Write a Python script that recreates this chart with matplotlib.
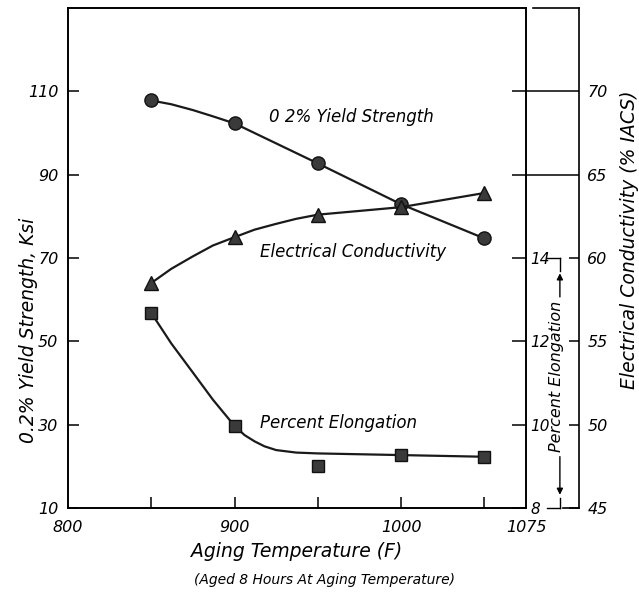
import numpy as np
import matplotlib
matplotlib.use('Agg')
import matplotlib.pyplot as plt
import matplotlib.ticker as ticker

plt.rcParams['font.family'] = ['DejaVu Sans']
plt.rcParams['font.style'] = 'italic'

# aging temperature (F)
temp = [850, 900, 950, 1000, 1050]
# 0.2% yield strength, ksi
yield_ksi = [107.8, 102.3, 92.7, 82.9, 74.7]
# electrical conductivity, % IACS
cond = [58.5, 61.25, 62.6, 63.05, 63.9]
# percent elongation
elong = [12.68, 9.97, 9.0, 9.27, 9.23]

# hand drawn trend curves
cond_curve_t = [850, 862, 875, 887, 900, 912, 925, 937, 950, 1000, 1050]
cond_curve = [58.5, 59.35, 60.1, 60.75, 61.25, 61.7, 62.05, 62.35, 62.6, 63.05, 63.9]
elong_curve_t = [850, 862, 875, 887, 900, 906, 912, 918, 925, 937, 950, 1000, 1050]
elong_curve = [12.68, 11.95, 11.25, 10.6, 9.97, 9.75, 9.6, 9.48, 9.39, 9.33, 9.31, 9.27, 9.23]
yield_curve_t = [850, 862, 875, 887, 900, 950, 1000, 1050]
yield_curve = [107.8, 106.9, 105.5, 104.0, 102.3, 92.7, 82.9, 74.7]

fig = plt.figure(figsize=(6.39, 5.98), dpi=100)
ax = fig.add_axes([68/639, 90/598, 458/639, 500/598])
ax2 = ax.twinx()   # percent elongation
ax3 = ax.twinx()   # conductivity

ax.set_xlim(800, 1075)
ax.set_ylim(10, 130)
ax2.set_ylim(8, 20)
ax3.set_ylim(45, 75)

lw = 1.6
for a in (ax, ax2, ax3):
    for s in a.spines.values():
        s.set_linewidth(1.2)

# main axis
ax.set_yticks([10, 30, 50, 70, 90, 110])
ax.set_xticks([850, 900, 950, 1000, 1050])
ax.set_xticks([800, 900, 1000, 1075], minor=True)
ax.xaxis.remove_overlapping_locs = False
ax.xaxis.set_major_formatter(ticker.NullFormatter())
ax.xaxis.set_minor_formatter(ticker.FuncFormatter(lambda v, p: '%d' % v))
ax.tick_params(axis='x', which='major', direction='in', length=8, width=1.1)
ax.tick_params(axis='x', which='minor', length=0, labelsize=11.5, pad=9)
ax.tick_params(axis='y', direction='in', length=8, width=1.1, labelsize=11.5, pad=7)
ax.set_xlabel('Aging Temperature (F)', fontsize=13.5, labelpad=5)
ax.set_ylabel('0.2% Yield Strength, Ksi', fontsize=13.5)
ax.yaxis.set_label_coords(-0.065, 0.356)
fig.text(325/639, 1 - 580/598, '(Aged 8 Hours At Aging Temperature)',
         ha='center', va='center', fontsize=10)

# elongation axis (on the main right spine)
ax2.spines['right'].set_visible(True)
ax2.set_yticks([8, 10, 12, 14])
ax2.tick_params(axis='y', direction='in', length=10, width=1.1, labelsize=11, pad=3)

# conductivity axis (offset spine)
ax3.spines['right'].set_position(('axes', 1.1157))
ax3.spines['top'].set_visible(False)
ax3.spines['bottom'].set_visible(False)
ax3.spines['left'].set_visible(False)
ax3.set_yticks([65, 70])
ax3.set_yticks([45, 50, 55, 60], minor=True)
ax3.yaxis.set_minor_formatter(ticker.FuncFormatter(lambda v, p: '%d' % v))
ax3.tick_params(axis='y', which='major', direction='in', length=48, width=1.1,
                labelsize=11.5, pad=6)
ax3.tick_params(axis='y', which='minor', direction='in', length=7, width=1.1,
                labelsize=11.5, pad=6)
ax3.set_ylabel('Electrical Conductivity (% IACS)', fontsize=13.5)
ax3.yaxis.set_label_coords(1.205, 0.536)
ax3.plot([1.015, 1.1157], [1, 1], transform=ax.transAxes, color='black',
         lw=1.2, clip_on=False)
ax3.plot([1.08, 1.1157], [0, 0], transform=ax.transAxes, color='black',
         lw=1.2, clip_on=False)

# percent elongation bracket label
tr = ax2.get_yaxis_transform()
ax2.text(1.066, 11.15, 'Percent Elongation', rotation=90, ha='center',
         va='center', fontsize=11.5, transform=tr)
ax2.plot([1.045, 1.074], [14, 14], transform=tr, color='black', lw=1, clip_on=False)
ax2.plot([1.045, 1.074], [8, 8], transform=tr, color='black', lw=1, clip_on=False)
ax2.annotate('', xy=(1.074, 13.7), xytext=(1.074, 13.0), xycoords=tr, textcoords=tr,
             arrowprops=dict(arrowstyle='-|>', color='black', lw=1, mutation_scale=9))
ax2.plot([1.074, 1.074], [13.7, 14], transform=tr, color='black', lw=1, clip_on=False)
ax2.annotate('', xy=(1.074, 8.25), xytext=(1.074, 9.3), xycoords=tr, textcoords=tr,
             arrowprops=dict(arrowstyle='-|>', color='black', lw=1, mutation_scale=9))
ax2.plot([1.074, 1.074], [8, 8.25], transform=tr, color='black', lw=1, clip_on=False)

mk = dict(color='#3a3a3a', markeredgecolor='#111111', markeredgewidth=1.0, ls='none')

# curves
ax.plot(yield_curve_t, yield_curve, color='#1a1a1a', lw=lw)
ax.plot(temp, yield_ksi, marker='o', markersize=9.5, **mk)
ax3.plot(cond_curve_t, cond_curve, color='#1a1a1a', lw=lw)
ax3.plot(temp, cond, marker='^', markersize=10, **mk)
ax2.plot(elong_curve_t, elong_curve, color='#1a1a1a', lw=lw)
ax2.plot(temp, elong, marker='s', markersize=9, **mk)

ax.text(969.9, 103.8, '0 2% Yield Strength', ha='center', va='center', fontsize=12)
ax.text(971.1, 71.4, 'Electrical Conductivity', ha='center', va='center', fontsize=12)
ax.text(962.7, 30.4, 'Percent Elongation', ha='center', va='center', fontsize=12)

fig.savefig('out.png', dpi=100)
